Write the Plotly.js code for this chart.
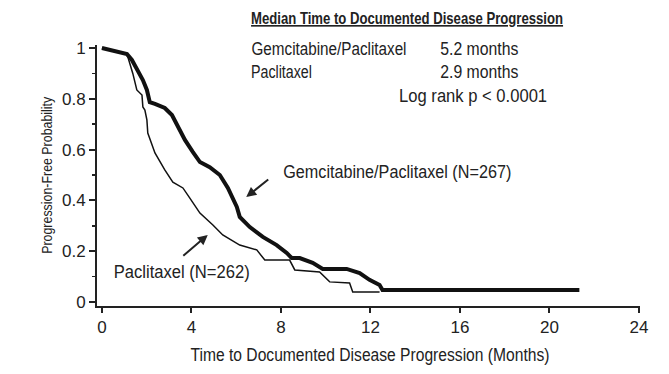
<!DOCTYPE html>
<html><head><meta charset="utf-8">
<script src="https://cdn.plot.ly/plotly-3.0.1.min.js"></script>
<style>body{margin:0;background:#fff}#c{width:669px;height:374px}</style>
</head><body><div id="c"></div>
<script>
const gemMonths = [0, 0.71, 1.12, 1.34, 1.61, 1.83, 2.01, 2.14, 2.37, 2.81, 3.13, 3.39, 3.71, 4.06, 4.38, 4.82, 5.27, 5.63, 5.85, 6.03, 6.16, 6.61, 7.19, 7.81, 8.26, 8.48, 8.84, 9.42, 9.87, 10.94, 11.52, 11.96, 12.41, 12.54, 21.34];
const gemProb = [1.0, 0.984, 0.976, 0.953, 0.913, 0.874, 0.835, 0.787, 0.78, 0.764, 0.736, 0.689, 0.638, 0.591, 0.551, 0.531, 0.50, 0.449, 0.409, 0.374, 0.335, 0.295, 0.256, 0.224, 0.193, 0.173, 0.173, 0.154, 0.13, 0.13, 0.114, 0.087, 0.067, 0.047, 0.047];
const pacMonths = [0, 0.71, 1.12, 1.16, 1.38, 1.56, 1.79, 1.83, 1.92, 2.01, 2.05, 2.37, 2.81, 3.17, 3.62, 3.93, 4.38, 4.96, 5.4, 6.16, 6.92, 7.28, 8.39, 8.62, 9.73, 10.18, 11.07, 11.21, 12.41];
const pacProb = [1.0, 0.984, 0.976, 0.965, 0.90, 0.835, 0.815, 0.768, 0.756, 0.717, 0.665, 0.587, 0.52, 0.472, 0.449, 0.409, 0.35, 0.303, 0.264, 0.224, 0.205, 0.165, 0.165, 0.126, 0.118, 0.079, 0.075, 0.039, 0.039];
const xTicks = [0, 4, 8, 12, 16, 20, 24];
const yTicks = [0, 0.2, 0.4, 0.6, 0.8, 1];
const yTickText = ['0', '0.2', '0.4', '0.6', '0.8', '1'];

const F = '"Liberation Sans", Arial, sans-serif';
const C = '#222';
const W = 669, H = 374, ML = 97, MR = 29, MT = 45, MB = 68;
const PW = W - ML - MR, PH = H - MT - MB;
const px = v => (v - ML) / PW;
const py = v => (MT + PH - v) / PH;

// [text, centerX, centerY, width, size, angle]
const labels = [
  ['<b><u>Median Time to Documented Disease Progression</u></b>', 407, 18, 312, 16.5, 0],
  ['Gemcitabine/Paclitaxel', 328.5, 49, 155, 17.5, 0],
  ['5.2 months', 479.5, 49, 78, 17.5, 0],
  ['Paclitaxel', 281.2, 72, 61, 17.5, 0],
  ['2.9 months', 479.5, 72, 78, 17.5, 0],
  ['Log rank p < 0.0001', 473, 96, 148, 17.5, 0],
  ['Gemcitabine/Paclitaxel (N=267)', 397, 172, 228, 17.5, 0],
  ['Paclitaxel (N=262)', 181, 272, 136, 17.5, 0],
  ['Time to Documented Disease Progression (Months)', 370, 355, 359, 17.5, 0],
  ['Progression-Free Probability', 47, 176, 157, 14, -90]
];

const annotations = labels.map(l => ({
  xref: 'paper', yref: 'paper', x: px(l[1]), y: py(l[2]), xanchor: 'center', yanchor: 'middle',
  showarrow: false, text: l[0], textangle: l[5], font: {family: F, size: l[4], color: C}
}));
annotations.push(
  {xref: 'x', yref: 'y', x: 6.45, y: 0.413, ax: 7.5, ay: 0.487, axref: 'x', ayref: 'y',
   showarrow: true, arrowhead: 2, arrowsize: 1, arrowwidth: 2, arrowcolor: '#222', text: ''},
  {xref: 'x', yref: 'y', x: 4.73, y: 0.264, ax: 3.57, ay: 0.177, axref: 'x', ayref: 'y',
   showarrow: true, arrowhead: 2, arrowsize: 1, arrowwidth: 2, arrowcolor: '#222', text: ''}
);

const traces = [
  {x: pacMonths, y: pacProb, mode: 'lines', line: {color: '#111', width: 1.5}, hoverinfo: 'skip'},
  {x: gemMonths, y: gemProb, mode: 'lines', line: {color: '#111', width: 4}, hoverinfo: 'skip'}
];
const layout = {
  width: W, height: H,
  margin: {l: ML, r: MR, t: MT, b: MB},
  paper_bgcolor: '#fff', plot_bgcolor: '#fff',
  showlegend: false,
  font: {family: F, color: C, size: 15},
  xaxis: {range: [-0.22, 24.05], tickvals: xTicks, ticktext: xTicks.map(String),
    showgrid: false, zeroline: false, showline: true, linecolor: '#222', linewidth: 2,
    ticks: 'outside', ticklen: 5, tickwidth: 2, tickcolor: '#222',
    tickfont: {family: F, size: 17, color: C}},
  yaxis: {range: [-0.016, 1.012], tickvals: yTicks, ticktext: yTickText,
    showgrid: false, zeroline: false, showline: true, linecolor: '#222', linewidth: 2,
    ticks: 'outside', ticklen: 6, tickwidth: 2, tickcolor: '#222',
    minor: {dtick: 0.1, tick0: 0, ticks: 'outside', ticklen: 3, tickwidth: 1.5, tickcolor: '#222'},
    tickfont: {family: F, size: 17, color: C}},
  annotations: annotations
};
Plotly.newPlot('c', traces, layout, {staticPlot: true}).then(gd => {
  labels.forEach((l, i) => {
    const t = gd.querySelector('g.annotation[data-index="' + i + '"] text.annotation-text');
    if (t) {
      t.setAttribute('textLength', l[3]);
      t.setAttribute('lengthAdjust', 'spacingAndGlyphs');
    }
  });
});
</script></body></html>
